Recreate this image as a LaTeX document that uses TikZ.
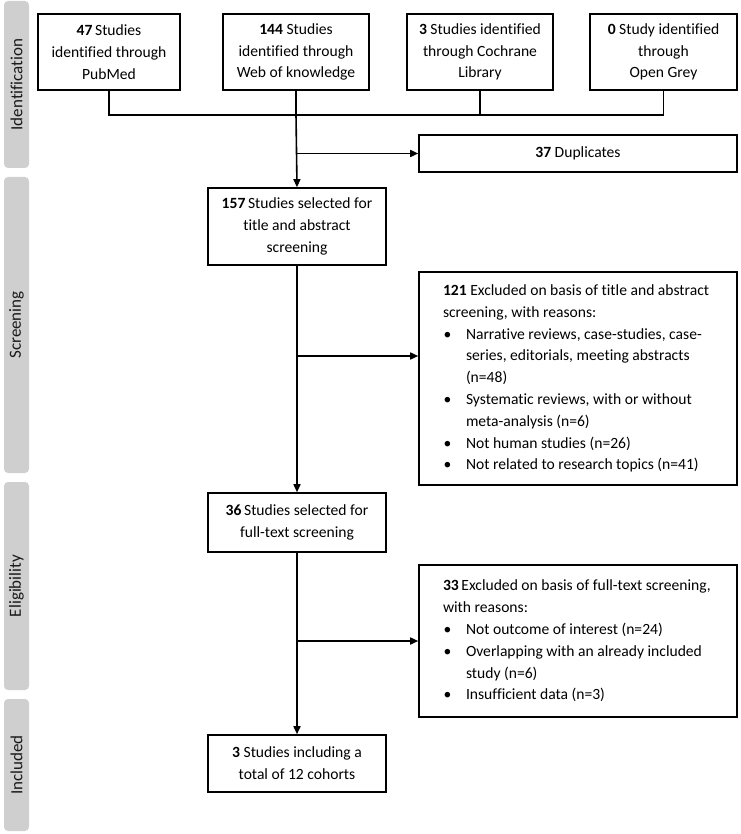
\documentclass[tikz,border=0pt]{standalone}
\usepackage{fontspec}
\setmainfont{Carlito}[Ligatures=NoCommon]
\usetikzlibrary{arrows.meta,calc}
\newcommand{\bul}{\makebox[23pt][l]{\hspace{0.5pt}\textbullet}}
\newcommand{\ind}{\hspace{23pt}}
\begin{document}
\begin{tikzpicture}[x=1pt,y=-1pt,
  line width=1.6pt,
  txt/.style={font={\fontsize{15.6}{21.8}\selectfont}},
  box/.style={draw=black,line width=1.6pt,inner sep=0pt,align=center,txt},
  side/.style={fill=black!19,draw=none,rounded corners=4pt},
  sidetxt/.style={font={\fontsize{17}{20}\selectfont},text=black!90,rotate=90},
  arr/.style={-{Triangle[length=8pt,width=7pt]},line width=1.6pt}]
\useasboundingbox (0,0) rectangle (740,834);
% side bars
\path[side] (4,1) rectangle (29,168);
\path[side] (4,177) rectangle (29,473);
\path[side] (4,482) rectangle (29,690);
\path[side] (4,699) rectangle (29,831);
\node[sidetxt] (sIdent) at (16.5,84.5) {Identification};
\node[sidetxt] (sScreen) at (16.5,325) {Screening};
\node[sidetxt] (sElig) at (16.5,586) {Eligibility};
\node[sidetxt] (sIncl) at (16.5,765) {Included};
% top boxes
\node[box,minimum width=142,minimum height=76] (pub) at (109,52) {\textbf{47}\,Studies\\identified through\\PubMed};
\node[box,minimum width=146,minimum height=76] (wok) at (296,52) {\textbf{144} Studies\\identified through\\Web of knowledge};
\node[box,minimum width=146,minimum height=76] (coch) at (480,52) {\textbf{3} Studies identified\\through Cochrane\\Library};
\node[box,minimum width=147,minimum height=76] (grey) at (663.5,52) {\textbf{0} Study identified\\through\\Open Grey};
\coordinate (hl) at (0,115);
\draw (pub.south) -- (pub.south |- hl) -- (grey.south |- hl) -- (grey.south);
\draw (wok.south) -- (wok.south |- hl);
\draw (coch.south) -- (coch.south |- hl);
% duplicates
\node[box,minimum width=318,minimum height=37] (dup) at (578,153.5) {\textbf{37} Duplicates};
% main column
\node[box,minimum width=178,minimum height=77] (s157) at (297,226.5) {\textbf{157}\,Studies selected for\\title and abstract\\screening};
\node[box,minimum width=178,minimum height=59] (s36) at (297,522.5) {\textbf{36}\,Studies selected for\\full-text screening};
\node[box,minimum width=178,minimum height=57] (s3) at (297,763.5) {\textbf{3} Studies including a\\total of 12 cohorts};
\draw[arr] (wok.south |- hl) -- (s157.north);
\coordinate (jd) at (297,153.5);
\draw[arr] (jd) -- (dup.west);
\draw[arr] (s157.south) -- (s36.north);
\draw[arr] (s36.south) -- (s3.north);
% excluded boxes
\node[draw=black,line width=1.6pt,minimum width=318,minimum height=213,inner sep=0pt] (ex1) at (578,378.5) {};
\node[txt,align=left,anchor=west,inner sep=0pt] (ex1t) at ($(ex1.west)+(24,0)$) {\textbf{121} Excluded on basis of title and abstract\\
screening, with reasons:\\
\bul Narrative reviews, case-studies, case-\\
\ind series, editorials, meeting abstracts\\
\ind (n=48)\\
\bul Systematic reviews, with or without\\
\ind meta-analysis (n=6)\\
\bul Not human studies (n=26)\\
\bul Not related to research topics (n=41)};
\node[draw=black,line width=1.6pt,minimum width=318,minimum height=152,inner sep=0pt] (ex2) at (578,641) {};
\node[txt,align=left,anchor=west,inner sep=0pt] (ex2t) at ($(ex2.west)+(24,0)$) {\textbf{33}\,Excluded on basis of full-text screening,\\
with reasons:\\
\bul Not outcome of interest (n=24)\\
\bul Overlapping with an already included\\
\ind study (n=6)\\
\bul Insufficient data (n=3)};
\coordinate (j1) at (297,356);
\coordinate (j2) at (297,641);
\draw[arr] (j1) -- (j1 -| ex1.west);
\draw[arr] (j2) -- (ex2.west);
\end{tikzpicture}
\end{document}
